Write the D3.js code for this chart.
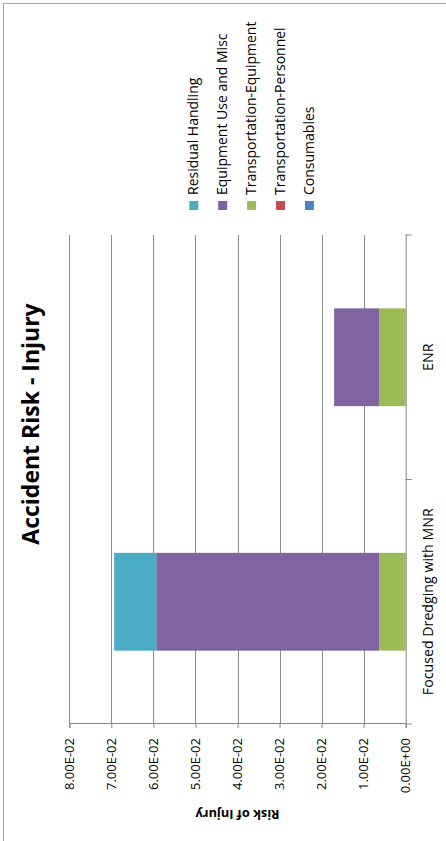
<!DOCTYPE html>
<html>
<head>
<meta charset="utf-8">
<script src="https://cdn.jsdelivr.net/npm/d3@7"></script>
<style>
  html, body { margin: 0; padding: 0; background: #fff; }
  svg { display: block; }
  text { font-family: "Open Sans", Lato, sans-serif; fill: #000; }
</style>
</head>
<body>
<svg id="chart" width="446" height="841"></svg>
<script>
// chart values
const categories = ['Focused Dredging with MNR', 'ENR']
const residualHandling = [0.0100, 0]
const equipmentUse = [0.0530, 0.0107]
const transportEquipment = [0.0063, 0.0063]
const transportPersonnel = [0.00002, 0.00002]
const consumables = [0.00001, 0.00001]
const yTicks = [0, 0.01, 0.02, 0.03, 0.04, 0.05, 0.06, 0.07, 0.08]

// legend order top to bottom, stack order is the reverse
const seriesNames = ['Residual Handling', 'Equipment Use and Misc', 'Transportation-Equipment', 'Transportation-Personnel', 'Consumables']
const seriesColors = ['#4BACC6', '#8064A2', '#9BBB59', '#C0504D', '#4F81BD']
const seriesValues = [residualHandling, equipmentUse, transportEquipment, transportPersonnel, consumables]

const rows = categories.map((c, i) => {
    const r = { category: c }
    seriesNames.forEach((s, j) => { r[s] = seriesValues[j][i] })
    return r
})

// the whole chart is drawn landscape and turned a quarter left
const W = 841, H = 446
const svg = d3.select('#chart')
const g = svg.append('g').attr('transform', `translate(0,${W}) rotate(-90)`)

const fmt = v => {
    const [m, e] = v.toExponential(2).toUpperCase().split('E')
    const sign = e[0] === '-' ? '-' : '+'
    const digits = e.replace(/[+-]/, '').padStart(2, '0')
    return `${m}E${sign}${digits}`
}

const plot = { left: 117, right: 606, top: 69.3, bottom: 405.7 }

const x = d3.scaleBand()
    .domain(categories)
    .range([plot.left, plot.right])
    .paddingInner(0.6)
    .paddingOuter(0.3)

const y = d3.scaleLinear()
    .domain([0, 0.08])
    .range([plot.bottom, plot.top])

// outer border (clipped by the window)
g.append('rect')
    .attr('x', -10).attr('y', 3.5)
    .attr('width', 847.5).attr('height', 460)
    .attr('fill', 'none')
    .attr('stroke', '#a6a6a6')
    .attr('stroke-width', 1)

// gridlines
g.append('g')
    .selectAll('line')
    .data(yTicks.slice(1))
    .enter().append('line')
    .attr('x1', plot.left).attr('x2', plot.right)
    .attr('y1', d => Math.round(y(d)) + 0.5)
    .attr('y2', d => Math.round(y(d)) + 0.5)
    .attr('stroke', '#8c8c8c')
    .attr('stroke-width', 1)

// stacked bars
const stack = d3.stack().keys(seriesNames.slice().reverse())
const layers = stack(rows)

g.append('g')
    .selectAll('g')
    .data(layers)
    .enter().append('g')
    .attr('fill', d => seriesColors[seriesNames.indexOf(d.key)])
    .selectAll('rect')
    .data(d => d)
    .enter().append('rect')
    .attr('x', d => x(d.data.category))
    .attr('width', x.bandwidth())
    .attr('y', d => y(d[1]))
    .attr('height', d => y(d[0]) - y(d[1]))

// value axis
const yAxis = g.append('g')
    .attr('transform', `translate(${plot.left},0)`)
    .call(d3.axisLeft(y).tickValues(yTicks).tickFormat(fmt).tickSize(4).tickPadding(10))
yAxis.select('.domain').attr('stroke', '#868686')
yAxis.selectAll('.tick line').attr('stroke', '#868686')
yAxis.selectAll('.tick text')
    .attr('font-size', '13px')
    .attr('fill', '#000')
    .style('font-family', '"Open Sans", Lato, sans-serif')

// category axis
const xAxis = g.append('g')
    .attr('transform', `translate(0,${plot.bottom})`)
    .call(d3.axisBottom(x).tickSize(0).tickPadding(17))
xAxis.select('.domain').attr('stroke', '#868686')
xAxis.selectAll('.tick text')
    .attr('font-size', '14.2px')
    .attr('fill', '#000')
    .style('font-family', '"Open Sans", Lato, sans-serif')

const step = x.step()
const catTicks = [plot.left, plot.left + step, plot.right]
g.append('g')
    .selectAll('line')
    .data(catTicks)
    .enter().append('line')
    .attr('x1', d => d).attr('x2', d => d)
    .attr('y1', plot.bottom).attr('y2', plot.bottom + 6)
    .attr('stroke', '#868686')

// title
g.append('text')
    .attr('x', 417)
    .attr('y', 39)
    .attr('text-anchor', 'middle')
    .attr('font-size', '23px')
    .attr('font-weight', 'bold')
    .text('Accident Risk - Injury')

// value axis title
g.append('text')
    .attr('transform', `translate(31.5,${(plot.top + plot.bottom) / 2}) rotate(-90)`)
    .attr('text-anchor', 'middle')
    .attr('font-size', '12.8px')
    .attr('font-weight', 'bold')
    .text('Risk of Injury')

// legend
const legend = g.append('g')
    .selectAll('g')
    .data(seriesNames)
    .enter().append('g')
    .attr('transform', (d, i) => `translate(631,${189.3 + i * 28.9})`)

legend.append('rect')
    .attr('width', 9).attr('height', 9)
    .attr('fill', (d, i) => seriesColors[i])

legend.append('text')
    .attr('x', 15)
    .attr('y', 9)
    .attr('font-size', '14px')
    .text(d => d)
</script>
</body>
</html>
